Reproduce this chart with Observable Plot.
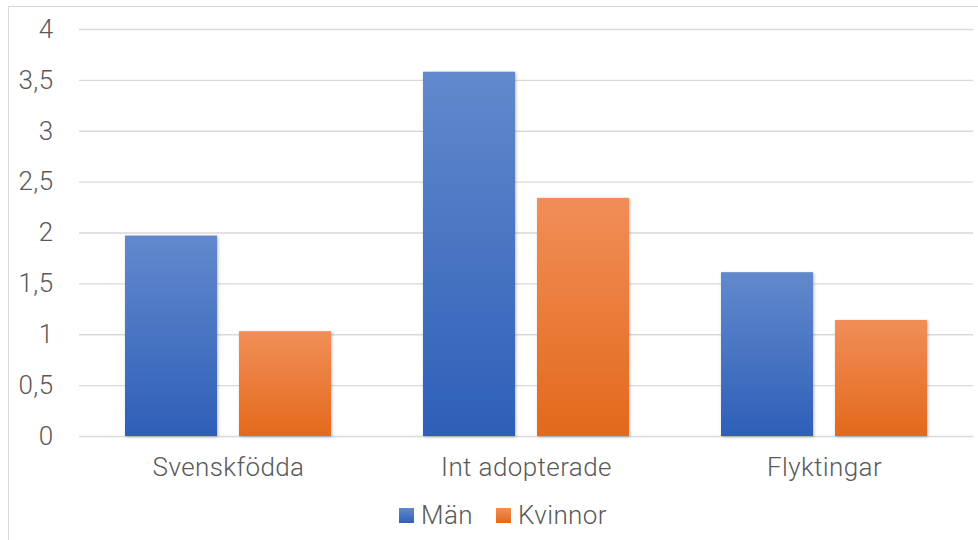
<!DOCTYPE html>
<html>
<head>
<meta charset="utf-8">
<script src="https://cdn.jsdelivr.net/npm/d3@7"></script>
<script src="https://cdn.jsdelivr.net/npm/@observablehq/plot@0.6"></script>
<style>
  html, body { margin: 0; padding: 0; background: #fff; }
  #wrap { position: relative; width: 978px; height: 540px; overflow: hidden; font-family: Roboto, "Noto Sans", sans-serif; font-weight: 300; }
  #frame { position: absolute; left: 8px; top: 6px; width: 1000px; height: 600px; border: 1px solid #d9d9d9; pointer-events: none; }
  #legend { position: absolute; left: 28px; width: 950px; top: 500px; height: 30px; display: flex; justify-content: center; align-items: center; gap: 23px; font-size: 26px; letter-spacing: 0.4px; color: #595959; }
  #legend .item { display: flex; align-items: center; gap: 7px; }
  #legend .sw { width: 15px; height: 15px; }
</style>
</head>
<body>
<div id="wrap">
  <div id="frame"></div>
  <div id="chart"></div>
  <div id="legend"></div>
</div>
<script>
// Groups along the x axis
const categories = ["Svenskfödda", "Int adopterade", "Flyktingar"];
// Series
const series = ["Män", "Kvinnor"];
const man = [1.97, 3.58, 1.61];
const kvinnor = [1.03, 2.34, 1.14];
// Y axis ticks
const yTicks = [0, 0.5, 1, 1.5, 2, 2.5, 3, 3.5, 4];

// Gradient colours per series (top, bottom)
const gradients = {
  "Män": ["#6289cd", "#2e5fb8"],
  "Kvinnor": ["#f18e58", "#e3691b"]
};
const gradId = {"Män": "gradMan", "Kvinnor": "gradKvinnor"};

const rows = [];
categories.forEach((c, i) => {
  rows.push({category: c, series: "Män", value: man[i]});
  rows.push({category: c, series: "Kvinnor", value: kvinnor[i]});
});

const fmt = d => String(d).replace(".", ",");

const chart = Plot.plot({
  width: 978,
  height: 496,
  marginTop: 29,
  marginLeft: 78,
  marginRight: 4,
  marginBottom: 60,
  style: {fontFamily: "Roboto, 'Noto Sans', sans-serif", fontSize: "26px", fontWeight: 300, color: "#595959", background: "transparent"},
  fx: {domain: categories, padding: 0, axis: "bottom", label: null, tickSize: 0, tickPadding: 21},
  x: {domain: series, paddingInner: 0.19, paddingOuter: 0.394, axis: null},
  y: {domain: [0, 4], ticks: yTicks, tickFormat: fmt, label: null, tickSize: 0, tickPadding: 26},
  color: {domain: series, range: series.map(s => `url(#${gradId[s]})`)},
  marks: [
    Plot.ruleY(yTicks, {stroke: "#d9d9d9", strokeWidth: 1.3}),
    Plot.barY(rows, {fx: "category", x: "series", y: "value", fill: "series"})
  ]
});

// Vertical gradients for the bars
const svg = d3.select(chart);
const defs = svg.insert("defs", ":first-child");
series.forEach(s => {
  const g = defs.append("linearGradient").attr("id", gradId[s])
    .attr("x1", 0).attr("y1", 0).attr("x2", 0).attr("y2", 1);
  g.append("stop").attr("offset", "0%").attr("stop-color", gradients[s][0]);
  g.append("stop").attr("offset", "100%").attr("stop-color", gradients[s][1]);
});
svg.selectAll("rect").style("filter", "drop-shadow(1px 1px 1.5px rgba(0,0,0,0.28))");
svg.selectAll("text").attr("fill", "#595959")
  .style("font-size", "26px").style("font-weight", 300).style("letter-spacing", "0.4px");

document.getElementById("chart").appendChild(chart);

// Legend below the chart
const legend = d3.select("#legend");
series.forEach(s => {
  const item = legend.append("div").attr("class", "item");
  item.append("div").attr("class", "sw")
    .style("background", `linear-gradient(${gradients[s][0]}, ${gradients[s][1]})`);
  item.append("span").text(s);
});
</script>
</body>
</html>
